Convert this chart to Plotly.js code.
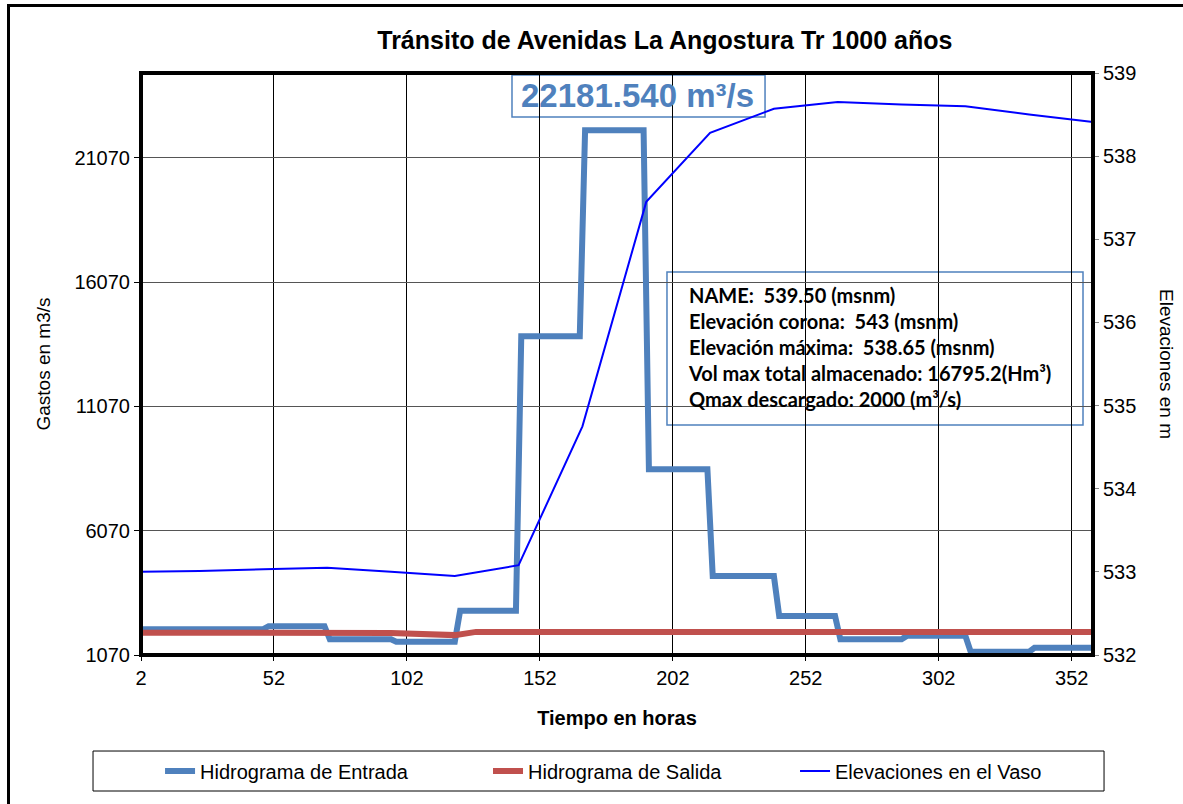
<!DOCTYPE html>
<html>
<head>
<meta charset="utf-8">
<script src="https://cdn.plot.ly/plotly-3.0.1.min.js"></script>
<style>
  body { margin: 0; background: #fff; }
  #wrap { position: relative; width: 1183px; height: 804px; overflow: hidden; }
  #chart { width: 1183px; height: 804px; }
  .edge { position: absolute; background: #000; }
</style>
</head>
<body>
<div id="wrap">
  <div id="chart"></div>
  <div class="edge" style="left:7px; top:4px; width:1176px; height:3px;"></div>
  <div class="edge" style="left:7px; top:4px; width:3px; height:800px;"></div>
</div>
<script>
// Hidrograma de entrada (escalones diarios)
const tEntrada = [2, 48, 50, 71, 73, 96, 98, 120, 122, 143, 145, 167, 169, 191, 193, 215, 217, 240, 242, 263, 265, 288, 290, 312, 314, 336, 338, 360];
const qEntrada = [2110, 2110, 2230, 2230, 1700, 1700, 1600, 1600, 2850, 2850, 13900, 13900, 22181.54, 22181.54, 8540, 8540, 4250, 4250, 2640, 2640, 1700, 1700, 1840, 1840, 1200, 1200, 1360, 1360];

// Hidrograma de salida
const tSalida = [2, 96, 120, 128, 360];
const qSalida = [1970, 1960, 1870, 2000, 2000];

// Elevaciones en el vaso
const tElev = [2, 24, 48, 72, 96, 120, 144, 168, 192, 216, 240, 264, 288, 312, 336, 360];
const hElev = [533.00, 533.01, 533.03, 533.05, 533.00, 532.95, 533.08, 534.75, 537.45, 538.28, 538.57, 538.65, 538.62, 538.60, 538.50, 538.41];

const infoLines = [
  "NAME:  539.50 (msnm)",
  "Elevación corona:  543 (msnm)",
  "Elevación máxima:  538.65 (msnm)",
  "Vol max total almacenado: 16795.2(Hm³)",
  "Qmax descargado: 2000 (m³/s)"
];

const arial = "Liberation Sans, Arial, sans-serif";

const traces = [
  {
    x: tEntrada, y: qEntrada, name: "Hidrograma de Entrada",
    type: "scatter", mode: "lines", legend: "legend",
    line: { color: "#4F81BD", width: 6 }
  },
  {
    x: tSalida, y: qSalida, name: "Hidrograma de Salida",
    type: "scatter", mode: "lines", legend: "legend2",
    line: { color: "#C0504D", width: 6 }
  },
  {
    x: tElev, y: hElev, name: "Elevaciones en el Vaso", yaxis: "y2",
    type: "scatter", mode: "lines", legend: "legend3",
    line: { color: "#0000FF", width: 2 }
  }
];

const legendBase = {
  orientation: "h",
  xanchor: "left",
  y: -0.1993, yanchor: "middle",
  font: { family: arial, size: 20 },
  bgcolor: "rgba(0,0,0,0)"
};

const layout = {
  width: 1183,
  height: 804,
  margin: { l: 141, r: 90, t: 73, b: 149 },
  paper_bgcolor: "#fff",
  plot_bgcolor: "#fff",
  font: { family: arial, size: 20, color: "#000" },
  showlegend: true,
  title: {
    text: "<b>Tránsito de Avenidas La Angostura Tr 1000 años</b>",
    font: { family: arial, size: 25, color: "#000" },
    x: 0.562, xanchor: "center",
    y: 0.95, yanchor: "middle"
  },
  xaxis: {
    range: [2, 360],
    tick0: 2, dtick: 50,
    showgrid: true, gridcolor: "#000", gridwidth: 1,
    zeroline: false,
    ticks: "outside", ticklen: 5, tickcolor: "#000",
    tickfont: { family: arial, size: 20 },
    title: { text: "<b>Tiempo en horas</b>", font: { family: arial, size: 20 }, standoff: 22 }
  },
  yaxis: {
    range: [1070, 24490],
    tick0: 1070, dtick: 5000,
    tickformat: "d",
    showgrid: true, gridcolor: "#555", gridwidth: 1,
    zeroline: false,
    ticks: "outside", ticklen: 6, tickcolor: "#000",
    tickfont: { family: arial, size: 20 },
    title: { text: "Gastos en m3/s", font: { family: arial, size: 19 }, standoff: 18 }
  },
  yaxis2: {
    overlaying: "y", side: "right",
    range: [532, 539], dtick: 1,
    showgrid: false, zeroline: false,
    ticks: "outside", ticklen: 5, tickcolor: "#888",
    tickfont: { family: arial, size: 20 }
  },
  legend: Object.assign({}, legendBase, { x: 0.02 }),
  legend2: Object.assign({}, legendBase, { x: 0.3645 }),
  legend3: Object.assign({}, legendBase, { x: 0.687 }),
  shapes: [
    // borde del área de trazado
    { type: "rect", xref: "paper", yref: "paper", x0: 0, x1: 1, y0: 0, y1: 1,
      line: { color: "#000", width: 4 }, layer: "above" },
    // caja del gasto pico
    { type: "rect", xref: "paper", yref: "paper", x0: 0.3897, x1: 0.6555, y0: 0.9244, y1: 0.9966,
      line: { color: "#4F81BD", width: 1.5 }, fillcolor: "#fff", layer: "between" },
    // caja de datos
    { type: "rect", xref: "paper", yref: "paper", x0: 0.5525, x1: 0.9895, y0: 0.3952, y1: 0.6581,
      line: { color: "#4F81BD", width: 1.5 }, fillcolor: "#fff", layer: "between" },
    // caja de la leyenda
    { type: "rect", xref: "paper", yref: "paper", x0: -0.0504, x1: 1.0116, y0: -0.2337, y1: -0.165,
      line: { color: "#000", width: 1 }, layer: "above" }
  ],
  annotations: [
    {
      xref: "paper", yref: "paper", x: 0.522, y: 0.9605,
      xanchor: "center", yanchor: "middle", showarrow: false,
      text: "<b>22181.540 m³/s</b>",
      font: { family: arial, size: 33, color: "#4F81BD" }
    },
    {
      xref: "paper", yref: "paper", x: 0.5725, y: 0.5295,
      xanchor: "left", yanchor: "middle", align: "left", showarrow: false,
      text: infoLines.map(s => "<b>" + s + "</b>").join("<br>"),
      font: { family: "Lato, Noto Sans, sans-serif", size: 20, color: "#000" }
    },
    {
      xref: "paper", yref: "paper", x: 1.0777, y: 0.5,
      xanchor: "center", yanchor: "middle", showarrow: false,
      textangle: 90,
      text: "Elevaciones en m",
      font: { family: arial, size: 19, color: "#000" }
    }
  ]
};

const config = { staticPlot: true };
Plotly.newPlot("chart", traces, layout, config);
</script>
</body>
</html>
